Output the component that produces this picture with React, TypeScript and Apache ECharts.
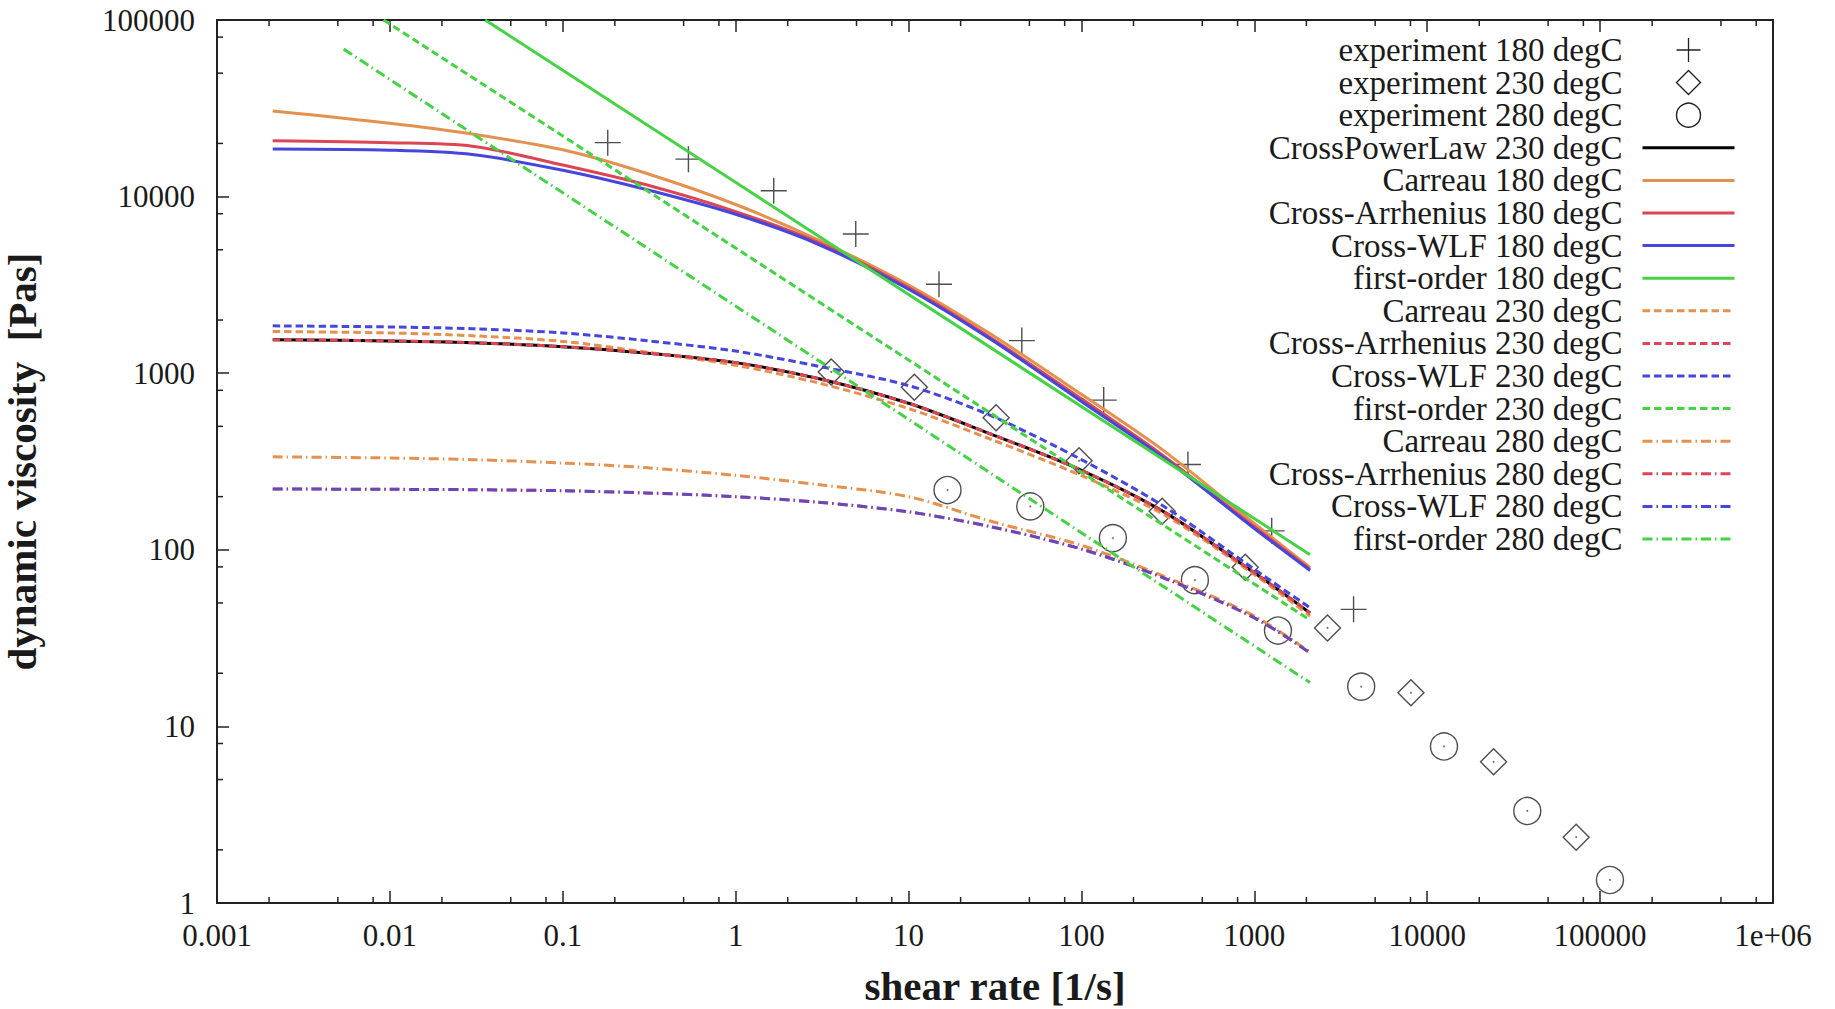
import React, { useEffect, useRef } from "react";
import * as echarts from "echarts";

// ---------- data ----------
const xTickLabels = ["0.001", "0.01", "0.1", "1", "10", "100", "1000", "10000", "100000", "1e+06"];
const yTickLabels = ["1", "10", "100", "1000", "10000", "100000"];
const minorMultipliers = [2, 5, 8];

// shear rates at which the model curves were read
const xModel = [0.0021, 0.01, 0.03, 0.1, 0.3, 1, 3, 10, 30, 100, 300, 1000, 2100];

const carreau180 = [30500, 26000, 22600, 18400, 13600, 9020, 5690, 3160, 1660, 759, 363, 141, 79.4];
const crossArrhenius180 = [20700, 20200, 19300, 15100, 11700, 8220, 5500, 3050, 1580, 716, 339, 135, 77.6];
const crossWLF180 = [18600, 18300, 17300, 14100, 11000, 7940, 5370, 2990, 1550, 692, 331, 132, 76.4];

const crossPowerLaw230 = [1545, 1524, 1489, 1413, 1303, 1148, 933, 676, 452, 282, 164, 74.1, 43.9];
const carreau230 = [1722, 1690, 1629, 1514, 1318, 1109, 881, 631, 422, 263, 158, 72.4, 42.2];
const crossArrhenius230 = [1545, 1524, 1489, 1413, 1303, 1148, 933, 676, 452, 282, 164, 74.1, 43.9];
const crossWLF230 = [1854, 1828, 1786, 1690, 1531, 1334, 1096, 851, 575, 324, 176, 77.6, 46.9];

const carreau280 = [336, 331, 324, 310, 292, 264, 234, 200, 145, 106, 70.8, 42.2, 26.3];
const crossArrhenius280 = [221, 220, 219, 216, 210, 200, 186, 164, 135, 101, 69.2, 41.2, 26.1];
const crossWLF280 = [221, 220, 219, 216, 210, 200, 186, 164, 135, 101, 69.2, 41.2, 26.1];

// first-order (power-law) lines: end points
const firstOrderX180 = [0.0356, 2100];
const firstOrder180 = [100000, 93.8];
const firstOrderX230 = [0.0092, 2100];
const firstOrder230 = [100000, 40];
const firstOrderX280 = [0.0054, 2100];
const firstOrder280 = [68400, 17.7];

// experiments
const exp180X = [0.182, 0.533, 1.66, 4.95, 15.0, 45.2, 134.5, 413, 1260, 3750];
const exp180Y = [20200, 16300, 10800, 6140, 3190, 1530, 704, 304, 128, 46];
const exp230X = [3.57, 10.8, 32.1, 96.9, 293, 886, 2650, 8050, 24200, 72700];
const exp230Y = [1016, 832, 560, 319, 165.5, 79.6, 36.1, 15.5, 6.3, 2.36];
const exp280X = [16.8, 50.6, 152, 453, 1370, 4150, 12500, 37900, 114000];
const exp280Y = [218, 176, 116.5, 67.3, 34.9, 16.8, 7.7, 3.32, 1.35];

// ---------- styles ----------
const ORANGE = "#e4914f";
const RED = "#dc4654";
const BLUE = "#4646dc";
const GREEN = "#45d245";
const INK = "#1a1a1a";
const FONT = "Liberation Serif";
const DASH = [7.5, 4];
const DASHDOT = [10, 4, 1.5, 4];
const PLUS = "path://M0,12.3L26,12.3L26,13.7L0,13.7Z M12.3,0L13.7,0L13.7,26L12.3,26Z";
const DIAMOND = "path://M13,0L26,13L13,26L0,13Z";

const pairs = (xs: number[], ys: number[]) => xs.map((x, i) => [x, ys[i]]);

const lineSeries = (name: string, xs: number[], ys: number[], color: string, type: any, extra: any = {}) => ({
  name,
  type: "line",
  data: pairs(xs, ys),
  symbol: "none",
  smooth: xs.length > 2 ? 0.3 : false,
  clip: true,
  lineStyle: { color, width: 3, type, cap: "butt", join: "round", ...(extra.lineStyle || {}) },
  itemStyle: { color },
  emphasis: { disabled: true },
});

const scatterItemStyle = { color: "transparent", borderColor: "#222", borderWidth: 1.4 };

function buildOption() {
  const xMinor: number[][] = [];
  for (let e = -3; e <= 5; e++) for (const m of minorMultipliers) xMinor.push([m * Math.pow(10, e), 1]);
  const yMinor: number[][] = [];
  for (let e = 0; e <= 4; e++) for (const m of minorMultipliers) yMinor.push([0.001, m * Math.pow(10, e)]);

  const tickStyle = { color: "#222", width: 1.5 };
  const xFmt = (v: number) => xTickLabels[Math.round(Math.log10(v)) + 3] ?? "";
  const yFmt = (v: number) => yTickLabels[Math.round(Math.log10(v))] ?? "";

  const series: any[] = [
    {
      name: "experiment 180 degC",
      type: "scatter",
      data: pairs(exp180X, exp180Y),
      symbol: PLUS,
      symbolSize: 26,
      itemStyle: { color: "#222", borderWidth: 0 },
      emphasis: { disabled: true },
    },
    {
      name: "experiment 230 degC",
      type: "scatter",
      data: pairs(exp230X, exp230Y),
      symbol: DIAMOND,
      symbolSize: 26,
      itemStyle: scatterItemStyle,
      emphasis: { disabled: true },
    },
    {
      name: "experiment 280 degC",
      type: "scatter",
      data: pairs(exp280X, exp280Y),
      symbol: "circle",
      symbolSize: 27,
      itemStyle: scatterItemStyle,
      emphasis: { disabled: true },
    },
    {
      name: "centerDots",
      type: "scatter",
      data: [...pairs(exp230X, exp230Y), ...pairs(exp280X, exp280Y)],
      symbol: "circle",
      symbolSize: 2,
      silent: true,
      itemStyle: { color: "#555" },
      emphasis: { disabled: true },
    },
    lineSeries("CrossPowerLaw 230 degC", xModel, crossPowerLaw230, "#000000", "solid"),
    lineSeries("Carreau 180 degC", xModel, carreau180, ORANGE, "solid"),
    lineSeries("Cross-Arrhenius 180 degC", xModel, crossArrhenius180, RED, "solid"),
    lineSeries("Cross-WLF 180 degC", xModel, crossWLF180, BLUE, "solid"),
    lineSeries("first-order 180 degC", firstOrderX180, firstOrder180, GREEN, "solid"),
    lineSeries("Carreau 230 degC", xModel, carreau230, ORANGE, DASH),
    lineSeries("Cross-Arrhenius 230 degC", xModel, crossArrhenius230, RED, DASH),
    lineSeries("Cross-WLF 230 degC", xModel, crossWLF230, BLUE, DASH),
    lineSeries("first-order 230 degC", firstOrderX230, firstOrder230, GREEN, DASH),
    lineSeries("Carreau 280 degC", xModel, carreau280, ORANGE, DASHDOT),
    lineSeries("Cross-Arrhenius 280 degC", xModel, crossArrhenius280, RED, DASHDOT),
    lineSeries("Cross-WLF 280 degC", xModel, crossWLF280, BLUE, DASHDOT, { lineStyle: { opacity: 0.75 } }),
    lineSeries("first-order 280 degC", firstOrderX280, firstOrder280, GREEN, DASHDOT),
    {
      name: "xMinorTicks",
      type: "custom",
      data: xMinor,
      silent: true,
      z: 6,
      renderItem: (_p: any, api: any) => {
        const v = api.value(0);
        const b = api.coord([v, 1]);
        const t = api.coord([v, 100000]);
        return {
          type: "group",
          children: [
            { type: "line", shape: { x1: b[0], y1: b[1], x2: b[0], y2: b[1] - 6 }, style: { stroke: "#222", lineWidth: 1.5 } },
            { type: "line", shape: { x1: t[0], y1: t[1], x2: t[0], y2: t[1] + 6 }, style: { stroke: "#222", lineWidth: 1.5 } },
          ],
        };
      },
    },
    {
      name: "yMinorTicks",
      type: "custom",
      data: yMinor,
      silent: true,
      z: 6,
      renderItem: (_p: any, api: any) => {
        const p = api.coord([0.001, api.value(1)]);
        return { type: "line", shape: { x1: p[0], y1: p[1], x2: p[0] + 6, y2: p[1] }, style: { stroke: "#222", lineWidth: 1.5 } };
      },
    },
  ];

  const legendNames = series
    .filter((s) => s.type !== "custom" && s.name !== "centerDots")
    .map((s) => s.name as string);
  const legendData = legendNames.map((n, i) => {
    if (i === 0) return { name: n, itemStyle: { color: "#222", borderWidth: 0, opacity: 1 } };
    if (i < 3) return { name: n, itemStyle: { ...scatterItemStyle, opacity: 1 } };
    return { name: n, itemStyle: { opacity: 0 } };
  });

  return {
    animation: false,
    backgroundColor: "#ffffff",
    grid: { left: 217, right: 62, top: 20, bottom: 106, containLabel: false, outerBoundsMode: "none" },
    legend: {
      orient: "vertical",
      align: "right",
      right: 99,
      top: 33.5,
      padding: 0,
      itemWidth: 92,
      itemHeight: 24,
      itemGap: -0.4,
      selectedMode: false,
      symbolKeepAspect: true,
      data: legendData,
      lineStyle: { width: 3, opacity: 1 },
      textStyle: { fontFamily: FONT, fontSize: 33, color: INK, padding: [0, 15, 0, 0] },
    },
    xAxis: [
      {
        type: "log",
        logBase: 10,
        min: 0.001,
        max: 1000000,
        position: "bottom",
        axisLine: { onZero: false, lineStyle: { color: "#222", width: 2 } },
        axisTick: { inside: true, length: 12, lineStyle: tickStyle },
        axisLabel: { fontFamily: FONT, fontSize: 31, color: INK, margin: 17, formatter: xFmt },
        splitLine: { show: false },
        name: "shear rate [1/s]",
        nameLocation: "middle",
        nameGap: 62,
        nameTextStyle: { fontFamily: FONT, fontSize: 41, fontWeight: "bold", color: INK },
      },
      {
        type: "log",
        logBase: 10,
        min: 0.001,
        max: 1000000,
        position: "top",
        axisLine: { onZero: false, lineStyle: { color: "#222", width: 2 } },
        axisTick: { inside: true, length: 12, lineStyle: tickStyle },
        axisLabel: { show: false },
        splitLine: { show: false },
      },
    ],
    yAxis: [
      {
        type: "log",
        logBase: 10,
        min: 1,
        max: 100000,
        position: "left",
        axisLine: { onZero: false, lineStyle: { color: "#222", width: 2 } },
        axisTick: { inside: true, length: 12, lineStyle: tickStyle },
        axisLabel: { fontFamily: FONT, fontSize: 31, color: INK, margin: 22, formatter: yFmt },
        splitLine: { show: false },
        name: "dynamic viscosity  [Pas]",
        nameLocation: "middle",
        nameRotate: 90,
        nameGap: 175,
        nameTextStyle: { fontFamily: FONT, fontSize: 41, fontWeight: "bold", color: INK },
      },
      {
        type: "log",
        logBase: 10,
        min: 1,
        max: 100000,
        position: "right",
        axisLine: { onZero: false, lineStyle: { color: "#222", width: 2 } },
        axisTick: { show: false },
        axisLabel: { show: false },
        splitLine: { show: false },
      },
    ],
    series,
  };
}

export default function App() {
  const ref = useRef<HTMLDivElement>(null);
  useEffect(() => {
    if (!ref.current) return;
    const chart = echarts.init(ref.current, null, { renderer: "svg" });
    chart.setOption(buildOption() as any);
    return () => chart.dispose();
  }, []);
  return (
    <div
      ref={ref}
      style={{ position: "fixed", left: 0, top: 0, width: 1835, height: 1009, background: "#fff" }}
    />
  );
}
